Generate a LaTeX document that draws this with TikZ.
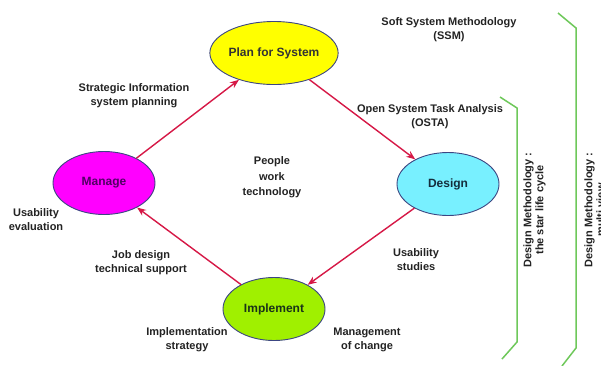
\documentclass[tikz,border=0pt]{standalone}
\usepackage{fontspec}
\setmainfont{Liberation Sans}
\usetikzlibrary{shapes.geometric,arrows.meta}
\definecolor{arrowred}{RGB}{214,24,70}
\definecolor{bracketgreen}{RGB}{110,200,90}
\definecolor{ellborder}{RGB}{60,70,130}
\definecolor{labeltext}{RGB}{35,35,35}
\definecolor{planfill}{RGB}{255,255,0}
\definecolor{managefill}{RGB}{255,0,255}
\definecolor{designfill}{RGB}{120,240,255}
\definecolor{implfill}{RGB}{160,240,0}
\tikzset{
  phase/.style={ellipse, draw=ellborder, line width=0.9pt, minimum width=102pt, minimum height=63pt, inner sep=0pt,
    font=\fontsize{12}{14}\selectfont\bfseries},
  lbl/.style={align=center, text=labeltext, inner sep=0pt, font=\fontsize{11}{14}\selectfont\bfseries},
  vlbl/.style={align=center, text=labeltext, inner sep=0pt, rotate=90, font=\fontsize{11}{12}\selectfont\bfseries},
  flow/.style={draw=arrowred, line width=1.4pt, -{Stealth[length=9pt,width=7pt]}},
  bracket/.style={draw=bracketgreen, line width=1.5pt}
}
\begin{document}
\begin{tikzpicture}[x=1pt,y=-1pt]
\useasboundingbox[fill=white] (0,0) rectangle (601,365);
\node[phase, fill=planfill, text=black!80] (plan) at (274,53) {Plan for System};
\node[phase, fill=managefill, text={rgb,255:red,80;green,0;blue,100}] (manage) at (104,183) {Manage};
\node[phase, fill=designfill, text={rgb,255:red,20;green,45;blue,60}] (design) at (448,184) {Design};
\node[phase, fill=implfill, text={rgb,255:red,25;green,50;blue,25}] (impl) at (274,309) {Implement};

\draw[flow] (manage) -- (plan);
\draw[flow] (plan) -- (design);
\draw[flow] (design) -- (impl);
\draw[flow] (impl) -- (manage);

\node[lbl] (ssm) at (449,29.5) {Soft System Methodology\\(SSM)};
\node[lbl] (sisp) at (134,95.5) {Strategic Information\\system planning};
\node[lbl] (osta) at (430,116.5) {Open System Task Analysis\\(OSTA)};
\node[lbl, font=\fontsize{11}{15.5}\selectfont\bfseries] (pwt) at (272,177.5) {People\\work\\technology};
\node[lbl] (ue) at (36,220) {Usability\\evaluation};
\node[lbl] (jd) at (141,262.5) {Job design\\technical support};
\node[lbl] (us) at (416,260) {Usability\\studies};
\node[lbl] (is) at (187,340) {Implementation\\strategy};
\node[lbl] (mc) at (367,340) {Management\\of change};

\coordinate (b1a) at (500,97);
\coordinate (b1b) at (517,108);
\coordinate (b1c) at (517,342);
\coordinate (b1d) at (502,359);
\draw[bracket] (b1a) -- (b1b) -- (b1c) -- (b1d);
\coordinate (b2a) at (558,13);
\coordinate (b2b) at (576,28);
\coordinate (b2c) at (576,348);
\coordinate (b2d) at (562,366);
\draw[bracket] (b2a) -- (b2b) -- (b2c) -- (b2d);

\node[vlbl] (dm1) at (534.5,210) {Design Methodology :\\the star life cycle};
\node[vlbl] (dm2) at (594.5,210) {Design Methodology :\\multi view};
\end{tikzpicture}
\end{document}
